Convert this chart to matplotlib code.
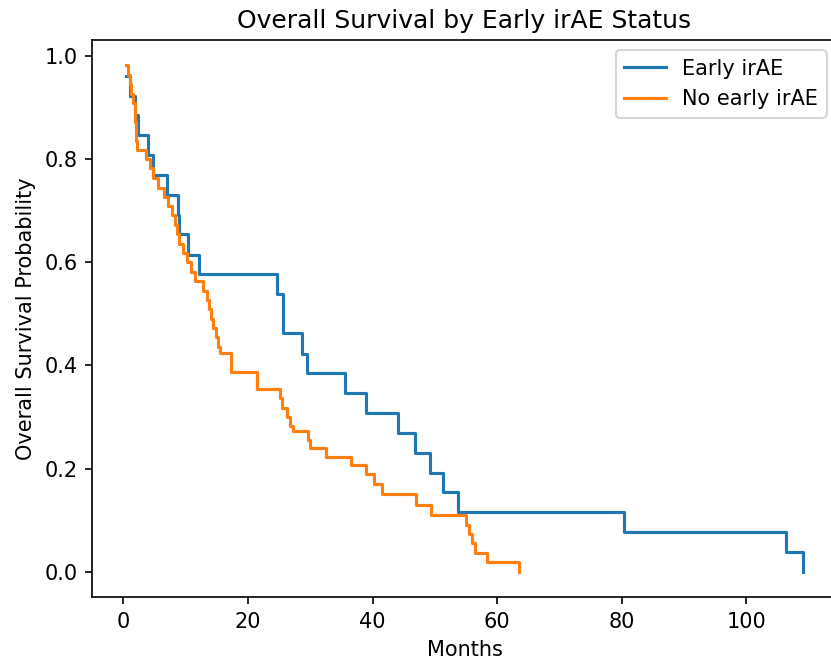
import matplotlib.pyplot as plt
import numpy as np

# Kaplan-Meier estimates (time in months, survival prob.)
early_t = [0.5, 1.0, 1.8, 2.4, 4.0, 4.8, 7.0, 8.8, 9.0, 10.4, 12.2, 24.7, 25.6,
           28.7, 29.5, 35.6, 38.9, 44.0, 46.8, 49.2, 51.3, 53.7, 80.4, 106.3, 109.1]
early_s = [0.962, 0.923, 0.885, 0.846, 0.808, 0.769, 0.731, 0.692, 0.654, 0.615,
           0.577, 0.538, 0.462, 0.423, 0.385, 0.346, 0.308, 0.269, 0.231, 0.192,
           0.154, 0.115, 0.077, 0.038, 0.0]

no_early_t = [0.4, 0.7, 1.0, 1.2, 1.5, 1.8, 2.0, 2.2, 3.6, 4.3, 4.8, 5.6, 6.5,
              7.2, 7.8, 8.3, 8.6, 9.0, 9.6, 10.2, 10.8, 11.5, 12.8, 13.4, 13.8,
              14.1, 14.4, 14.8, 15.2, 15.5, 17.2, 21.5, 25.1, 25.5, 26.2, 26.8,
              27.2, 29.6, 30.0, 32.5, 36.5, 38.9, 40.2, 41.5, 47.0, 49.4, 55.0,
              55.4, 56.0, 56.5, 58.3, 63.5]
no_early_s = [0.982, 0.964, 0.945, 0.927, 0.909, 0.873, 0.836, 0.818, 0.800, 0.782,
              0.764, 0.745, 0.727, 0.709, 0.691, 0.673, 0.655, 0.636, 0.618, 0.600,
              0.582, 0.564, 0.545, 0.527, 0.509, 0.491, 0.473, 0.455, 0.436, 0.425,
              0.388, 0.355, 0.336, 0.318, 0.300, 0.282, 0.273, 0.255, 0.240, 0.222,
              0.207, 0.189, 0.171, 0.150, 0.130, 0.110, 0.091, 0.073, 0.055, 0.037,
              0.018, 0.0]

fig = plt.figure(figsize=(831 / 150, 669 / 150), dpi=150)
ax = fig.add_axes([0.1107, 0.1076, 0.8965, 0.8326])

ax.step(early_t, early_s, where='post', label='Early irAE')
ax.step(no_early_t, no_early_s, where='post', label='No early irAE')

ax.set_title('Overall Survival by Early irAE Status')
ax.set_xlabel('Months')
ax.set_ylabel('Overall Survival Probability')
ax.legend(loc='upper right')

fig.savefig('out.png', dpi=150)
